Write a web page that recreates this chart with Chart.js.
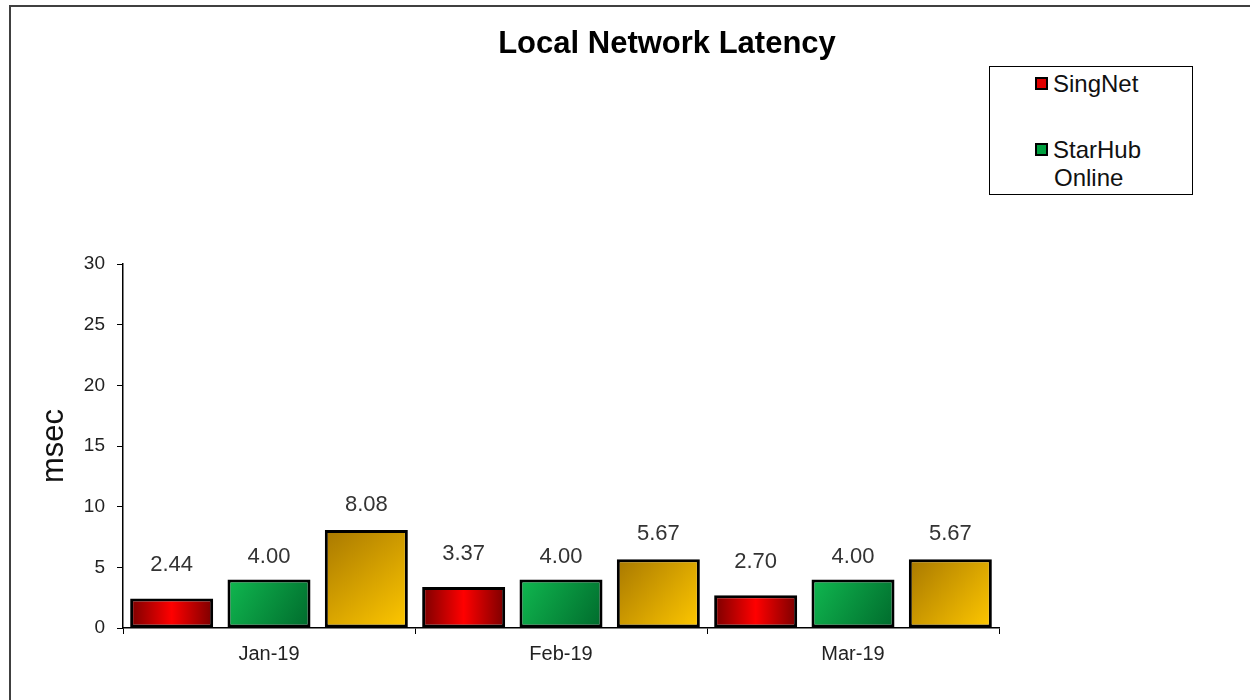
<!DOCTYPE html>
<html>
<head>
<meta charset="utf-8">
<script src="https://cdn.jsdelivr.net/npm/chart.js@4"></script>
<style>
html,body{margin:0;padding:0;width:1250px;height:700px;overflow:hidden;background:#fff;font-family:"Liberation Sans",Arial,sans-serif;}
#marco{position:absolute;left:9px;top:5px;width:1300px;height:750px;border:2px solid #404040;}
#grafico{position:absolute;left:0;top:0;}
#titulo{position:absolute;left:667px;top:26px;transform:translateX(-50%);font-weight:bold;font-size:31px;line-height:34px;color:#000;white-space:nowrap;}
#leyenda{position:absolute;left:989px;top:66px;width:202px;height:127px;border:1px solid #000;background:#fff;font-size:24px;color:#111;}
.item{position:absolute;left:45px;line-height:28px;}
.cuadro{display:inline-block;width:9px;height:9px;border:2px solid #000;margin-right:5px;vertical-align:2px;}
</style>
</head>
<body>
<div id="marco"></div>
<canvas id="grafico" width="1250" height="700"></canvas>
<div id="titulo">Local Network Latency</div>
<div id="leyenda">
  <div class="item" style="top:3px"><span class="cuadro" style="background:#e00000"></span>SingNet</div>
  <div class="item" style="top:69px"><span class="cuadro" style="background:#00a040"></span>StarHub<br><span style="margin-left:19px">Online</span></div>
</div>
<script>
// Datos
const meses=["Jan-19","Feb-19","Mar-19"];
const singnet=[2.44,3.37,2.70];
const starhub=[4.00,4.00,4.00];
const tercera=[8.08,5.67,5.67];
const ticksY=[0,5,10,15,20,25,30];

// Degradados de cada barra
function centroBarra(c){
  const x=c.chart.scales.x;
  const slot=(x.getPixelForValue(1)-x.getPixelForValue(0))/3;
  const cx=x.getPixelForValue(c.dataIndex)+(c.datasetIndex-1)*slot;
  return {cx,w:slot*0.853};
}
function degradado(tipo,colores){
  return c=>{
    if(c.type!=="data"||!c.chart.chartArea) return colores[1];
    const ctx=c.chart.ctx;
    const {cx,w}=centroBarra(c);
    const y=c.chart.scales.y;
    const yTop=y.getPixelForValue(c.raw), yBase=y.getPixelForValue(0);
    let g;
    if(tipo==="h"){
      g=ctx.createLinearGradient(cx-w/2,0,cx+w/2,0);
      g.addColorStop(0,colores[0]);g.addColorStop(0.5,colores[1]);g.addColorStop(1,colores[0]);
    }else{
      g=ctx.createLinearGradient(cx-w/2,yTop,cx+w/2,yBase);
      g.addColorStop(0,colores[0]);g.addColorStop(1,colores[1]);
    }
    return g;
  };
}

// Etiquetas de valores
const etiquetas={
  id:"etiquetas",
  afterDatasetsDraw(chart){
    const ctx=chart.ctx;
    ctx.save();
    ctx.font="22px 'Liberation Sans', Arial, sans-serif";
    ctx.fillStyle="#333";
    ctx.textAlign="center";
    ctx.textBaseline="middle";
    chart.data.datasets.forEach((ds,i)=>{
      chart.getDatasetMeta(i).data.forEach((el,j)=>{
        ctx.fillText(ds.data[j].toFixed(2),el.x,el.y-ds.desfase);
      });
    });
    ctx.restore();
  }
};

new Chart(document.getElementById("grafico"),{
  type:"bar",
  data:{labels:meses,datasets:[
    {label:"SingNet",data:singnet,backgroundColor:degradado("h",["#7a0000","#ff0000"]),desfase:33},
    {label:"StarHub Online",data:starhub,backgroundColor:degradado("d",["#10b850","#006a2c"]),desfase:23},
    {label:"Other",data:tercera,backgroundColor:degradado("d",["#a87800","#ffc800"]),desfase:25}
  ].map(d=>Object.assign(d,{borderColor:"#000",borderWidth:3,borderSkipped:false,categoryPercentage:1,barPercentage:0.853}))},
  options:{
    responsive:false,animation:false,
    layout:{padding:{left:10,top:264,right:251,bottom:0}},
    plugins:{legend:{display:false},tooltip:{enabled:false}},
    scales:{
      x:{
        afterFit:s=>{s.height=72;},
        grid:{display:true,drawOnChartArea:false,drawTicks:true,tickLength:6,color:"#000"},
        border:{color:"#000",width:1.5},
        ticks:{color:"#222",font:{size:20,family:"'Liberation Sans', Arial"},padding:8}
      },
      y:{
        min:0,max:30,
        afterBuildTicks:s=>{s.ticks=ticksY.map(v=>({value:v}));},
        afterFit:s=>{s.width=113;},
        grid:{display:true,drawOnChartArea:false,drawTicks:true,tickLength:6,color:"#000"},
        border:{color:"#000",width:1.5},
        ticks:{color:"#222",font:{size:19,family:"'Liberation Sans', Arial"},padding:12},
        title:{display:true,text:"msec",color:"#111",font:{size:31,family:"'Liberation Sans', Arial"},padding:{top:26}}
      }
    }
  },
  plugins:[etiquetas]
});
</script>
</body>
</html>
